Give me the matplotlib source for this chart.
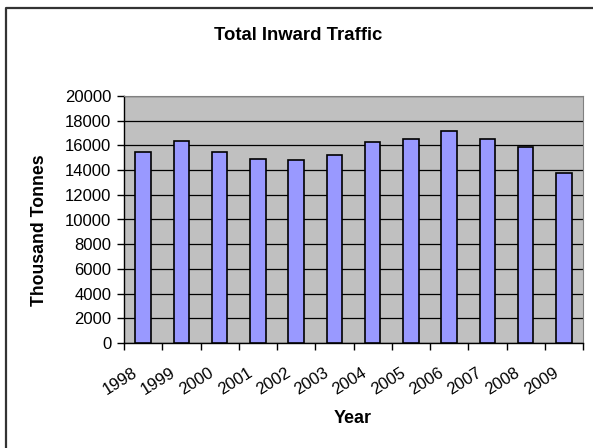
import matplotlib

matplotlib.use("Agg")

import matplotlib.pyplot as plt
import numpy as np
from matplotlib.lines import Line2D
from matplotlib.transforms import ScaledTranslation, blended_transform_factory


YEARS = ["1998", "1999", "2000", "2001", "2002", "2003",
         "2004", "2005", "2006", "2007", "2008", "2009"]
TRAFFIC = [15450, 16380, 15450, 14920, 14820, 15200,
           16250, 16520, 17190, 16520, 15850, 13740]
Y_TICKS = [0, 2000, 4000, 6000, 8000, 10000, 12000, 14000, 16000, 18000, 20000]

plt.rcParams["font.family"] = ["Liberation Sans", "DejaVu Sans"]

W, H = 593, 448


def main():
    fig = plt.figure(figsize=(W / 100, H / 100), dpi=100)
    # outer chart frame: only the left and top edges are in the picture
    fig.lines.append(Line2D([5.5 / W, 5.5 / W, 1.0], [0.0, 1 - 8.5 / H, 1 - 8.5 / H],
                            transform=fig.transFigure, color="#333333", linewidth=1.6))

    ax = fig.add_axes([124 / W, 1 - 343 / H, (583 - 124) / W, (343 - 96) / H])
    ax.set_facecolor("#C0C0C0")
    x = np.arange(len(YEARS))
    ax.bar(x, TRAFFIC, width=0.4, color="#9999FF", edgecolor="black", linewidth=1.2, zorder=3)

    ax.set_xlim(-0.5, len(YEARS) - 0.5)
    ax.set_ylim(0, 20000)
    ax.set_yticks(Y_TICKS)
    ax.yaxis.grid(True, color="black", linewidth=0.9, zorder=1)
    ax.set_axisbelow(True)

    ax.set_xticks(np.arange(-0.5, len(YEARS)), labels=[])
    ax.tick_params(axis="x", length=5, width=1, direction="out")
    ax.tick_params(axis="y", length=5, width=1, direction="out", labelsize=12, pad=4)

    # rotated year labels, top-right corner just left of each bar
    trans = blended_transform_factory(ax.transData, ax.transAxes) + \
        ScaledTranslation(-11 / 100, -22 / 100, fig.dpi_scale_trans)
    for xi, year in zip(x, YEARS):
        ax.text(xi, 0, year, transform=trans, rotation=32, ha="right", va="top",
                rotation_mode="anchor", fontsize=12)

    for side in ["top", "right"]:
        ax.spines[side].set_color("#808080")
    for side in ["left", "bottom"]:
        ax.spines[side].set_color("black")
        ax.spines[side].set_linewidth(1.0)

    fig.text(298.5 / W, 1 - 35 / H, "Total Inward Traffic", ha="center", va="center",
             fontsize=13.3, fontweight="bold")
    fig.text(40 / W, 1 - 230 / H, "Thousand Tonnes", ha="center", va="center",
             rotation=90, fontsize=12.7, fontweight="bold")
    fig.text(353 / W, 1 - 418 / H, "Year", ha="center", va="center",
             fontsize=13, fontweight="bold")

    fig.savefig("out.png", dpi=100)
    plt.close(fig)


if __name__ == "__main__":
    main()
